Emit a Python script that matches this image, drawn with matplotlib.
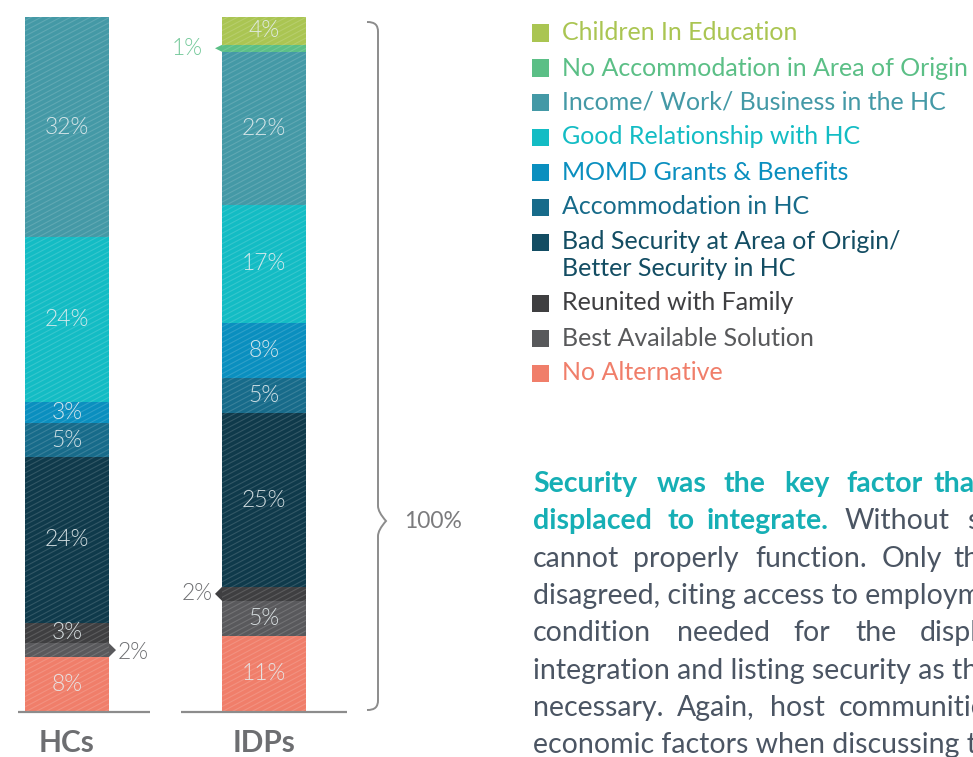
import os
import numpy as np
import matplotlib
matplotlib.use("Agg")
import matplotlib.pyplot as plt
import matplotlib.font_manager as fm
from matplotlib.patches import Rectangle, Polygon, PathPatch
from matplotlib.path import Path
from matplotlib.collections import LineCollection
from matplotlib.transforms import IdentityTransform

plt.rcParams['font.family'] = ['Lato', 'DejaVu Sans']

# ---------------- data ----------------
groups = ['HCs', 'IDPs']
# bottom -> top stacking order
categories = ['No Alternative', 'Best Available Solution', 'Reunited with Family',
              'Bad Security at Area of Origin/\nBetter Security in HC', 'Accommodation in HC',
              'MOMD Grants & Benefits', 'Good Relationship with HC',
              'Income/ Work/ Business in the HC', 'No Accommodation in Area of Origin',
              'Children In Education']
hcs_values = [8, 2, 3, 24, 5, 3, 24, 32, 0, 0]
idps_values = [11, 5, 2, 25, 5, 8, 17, 22, 1, 4]
colors = ['#f07e6a', '#59595c', '#3f3f41', '#0f3a4b', '#176b8a',
          '#0a8fbf', '#13bcc4', '#4499a6', '#5bbf86', '#aac552']
legend_text_colors = ['#f07e6a', '#58595b', '#3f3f41', '#134d63', '#176b8a',
                      '#0a8fbf', '#13bcc4', '#4499a6', '#5bbf86', '#aac552']
legend_square_colors = ['#f07e6a', '#58595b', '#3f3f41', '#134d63', '#176b8a',
                        '#0a8fbf', '#13bcc4', '#4499a6', '#5bbf86', '#aac552']
total_label = '100%'

# ---------------- fonts ----------------
_files = {os.path.basename(f).lower(): f for f in fm.findSystemFonts()}

def lato(style, size, weight='normal'):
    f = _files.get(f'lato-{style}.ttf'.lower())
    if f:
        return fm.FontProperties(fname=f, size=size)
    return fm.FontProperties(family=['Lato', 'DejaVu Sans'], weight=weight, size=size)

W, H = 973, 757
fig = plt.figure(figsize=(W / 100, H / 100), dpi=100)
fig.patch.set_facecolor('white')

def fx(x):
    return x / W

def fy(y):
    return 1 - y / H

# bars axes: pixel x 0..480, y 17..712
ax = fig.add_axes([0, fy(712), 480 / W, 695 / H])
unit = 197.0  # px per x unit
ax.set_xlim(-67 / unit, (480 - 67) / unit)
ax.set_ylim(0, 100)
ax.axis('off')

bar_w = 84 / unit
series = [hcs_values, idps_values]
tip = 7 / unit

# hatch line template in display pixels
slope = 0.53
offs = np.arange(-400, 800, 5.2)
hatch_segs = [[(0, c), (600, c + slope * 600)] for c in offs]

callout_style = {
    (1, 'No Accommodation in Area of Origin'): ('#74c99a', 19),
    (1, 'Reunited with Family'): ('#6d6e71', 9),
    (0, 'Best Available Solution'): ('#6d6e71', 9),
}

lab_font = lato('light', 16.5, 'light')
fig.canvas.draw()
for gi, vals in enumerate(series):
    vals = np.array(vals, dtype=float)
    norm = vals / vals.sum() * 100
    bottom = 0.0
    for ci, (v, nv) in enumerate(zip(vals, norm)):
        if v <= 0:
            continue
        bars = ax.bar(gi, nv, bottom=bottom, width=bar_w, color=colors[ci],
                      linewidth=0, zorder=2)
        patch = bars[0]
        lc = LineCollection(hatch_segs, colors=[(1, 1, 1, 0.15)], linewidths=0.8,
                            transform=IdentityTransform(), zorder=3)
        ax.add_collection(lc, autolim=False)
        lc.set_clip_path(patch.get_path(), patch.get_transform())
        mid = bottom + nv / 2
        if v >= 3:
            ax.text(gi, mid, f'{int(v)}%', ha='center', va='center',
                    fontproperties=lab_font, color='#e6eef0', alpha=0.9, zorder=6)
        else:
            tcol, off = callout_style.get((gi, categories[ci]), ('#6d6e71', 9))
            if gi == 0:
                edge = gi + bar_w / 2
                poly = [(edge, bottom), (edge + tip, mid), (edge, bottom + nv)]
                ax.add_patch(Polygon(poly, closed=True, color=colors[ci], lw=0,
                                     zorder=2, clip_on=False))
                ax.text(edge + off / unit, mid - 0.3, f'{int(v)}%', ha='left',
                        va='center', fontproperties=lab_font, color=tcol)
            else:
                edge = gi - bar_w / 2
                h = max(nv, 1.0)
                poly = [(edge, mid - h / 2), (edge - tip, mid), (edge, mid + h / 2)]
                ax.add_patch(Polygon(poly, closed=True, color=colors[ci], lw=0,
                                     zorder=2, clip_on=False))
                ax.text(edge - off / unit, mid, f'{int(v)}%', ha='right',
                        va='center', fontproperties=lab_font, color=tcol)
        bottom += nv

# baselines
for gi, (l, r) in enumerate([(18, 150), (181, 347)]):
    ax.plot([(l - 67) / unit, (r - 67) / unit], [0, 0], color='#8c8c8c', lw=1.6,
            clip_on=False, zorder=5, solid_capstyle='butt')

# group labels
grp_font = lato('bold', 21.5, 'bold')
for gi, g in enumerate(groups):
    ax.text(gi, -5.8, g, ha='center', va='baseline', fontproperties=grp_font,
            color='#6d6e71', clip_on=False)

# brace
verts = [(367, 22), (375, 22), (378, 25), (378, 32),
         (378, 506), (378, 512), (386, 521),
         (378, 530), (378, 536),
         (378, 700), (378, 707), (375, 710), (367, 710)]
codes = [Path.MOVETO, Path.CURVE4, Path.CURVE4, Path.CURVE4,
         Path.LINETO, Path.CURVE3, Path.CURVE3,
         Path.CURVE3, Path.CURVE3,
         Path.LINETO, Path.CURVE4, Path.CURVE4, Path.CURVE4]
bpath = Path([(fx(x), fy(y)) for x, y in verts], codes)
fig.add_artist(PathPatch(bpath, transform=fig.transFigure, fill=False,
                         edgecolor='#8c8c8c', lw=1.4))
fig.text(fx(404), fy(522), total_label, ha='left', va='center',
         fontproperties=lato('regular', 16.5), color='#7b7b7d')

# legend (top -> bottom)
leg_font = lato('regular', 18)
leg_rows = [33, 68, 102, 137, 172, 207, 242, 303, 338, 373]
for row, ci in zip(leg_rows, range(len(categories) - 1, -1, -1)):
    fig.add_artist(Rectangle((fx(532), fy(row + 8.5)), 17 / W, 17 / H,
                             transform=fig.transFigure, color=legend_square_colors[ci], lw=0))
    two = '\n' in categories[ci]
    fig.text(fx(562), fy(row + 13) if two else fy(row), categories[ci], ha='left',
             va='center', fontproperties=leg_font, color=legend_text_colors[ci],
             linespacing=1.18)

# paragraph
teal = '#16afb5'
body = '#4b5563'
base0, step = 492, 37.3
para = [
    [('Security', 533, True), ('was', 657, True), ('the', 724, True), ('key', 784, True),
     ('factor', 846, True), ('that', 933, True)],
    [('displaced', 533, True), ('to', 667, True), ('integrate.', 707, True),
     ('Without', 845, False), ('security,', 967, False)],
    [('cannot', 533, False), ('properly', 633, False), ('function.', 755, False),
     ('Only', 882, False), ('the', 953, False)],
    [('disagreed, citing access to employment', 533, False)],
    [('condition', 533, False), ('needed', 677, False), ('for', 793, False),
     ('the', 855, False), ('displaced', 920, False)],
    [('integration and listing security as the', 533, False)],
    [('necessary.', 533, False), ('Again,', 677, False), ('host', 770, False),
     ('communities', 839, False)],
    [('economic factors when discussing the', 533, False)],
]
p_reg = lato('regular', 20.5)
p_bold = lato('bold', 20.5, 'bold')
for i, line in enumerate(para):
    yb = base0 + step * i
    for word, x, bold in line:
        fig.text(fx(x), fy(yb), word, ha='left', va='baseline',
                 fontproperties=p_bold if bold else p_reg, color=teal if bold else body)

fig.savefig('out.png', dpi=100, facecolor='white')
